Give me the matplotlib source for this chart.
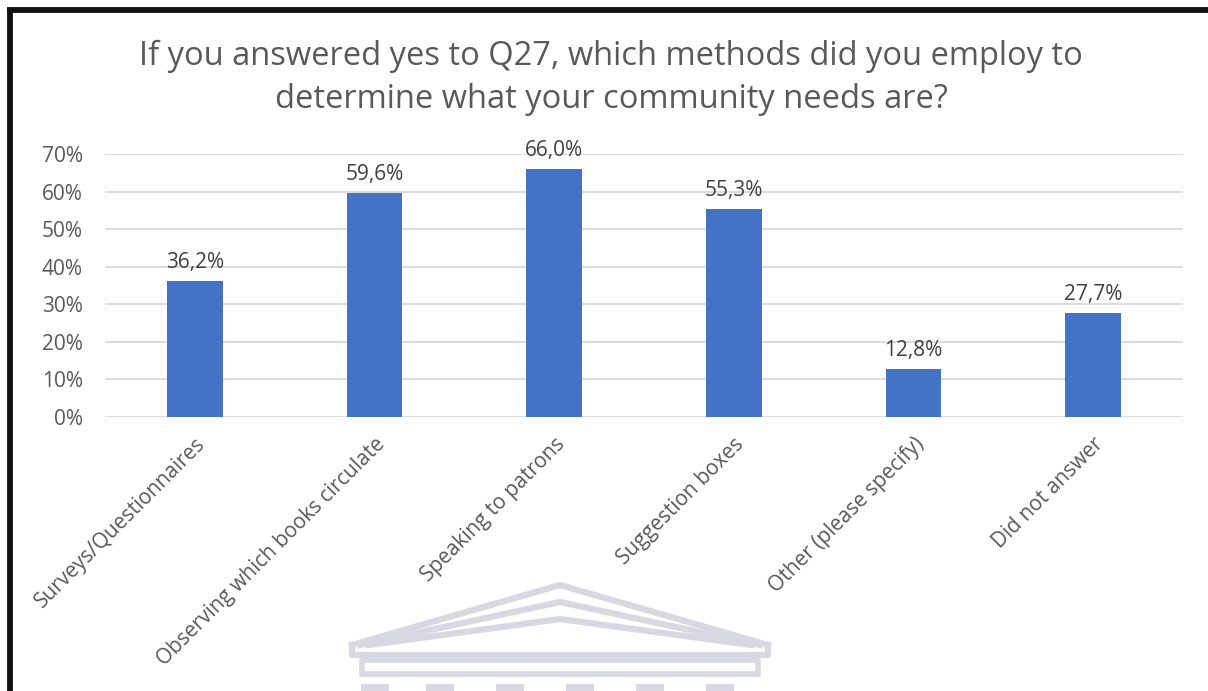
import matplotlib.pyplot as plt
import matplotlib.transforms as mtransforms
from matplotlib.patches import Rectangle
import numpy as np

plt.rcParams['font.family'] = ['Open Sans', 'DejaVu Sans']

# Survey answers
methods = ['Surveys/Questionnaires', 'Observing which books circulate',
           'Speaking to patrons', 'Suggestion boxes',
           'Other (please specify)', 'Did not answer']
shares = [36.2, 59.6, 66.0, 55.3, 12.8, 27.7]
y_ticks = [0, 10, 20, 30, 40, 50, 60, 70]

W, H = 1208, 691
fig = plt.figure(figsize=(W / 100, H / 100), dpi=100)

# background layer in pixel coords: frame + faint pediment watermark
bg = fig.add_axes([0, 0, 1, 1], zorder=0)
bg.set_xlim(0, W)
bg.set_ylim(H, 0)
bg.axis('off')
bg.plot([9.5, 9.5], [10, H], color='#111111', lw=4.2, solid_capstyle='butt')
bg.plot([7, W], [10, 10], color='#111111', lw=4.2, solid_capstyle='butt')

wm = '#d8d8e2'
for dy in (0, 17, 34):
    bg.plot([352 + dy * 0.5, 560, 768 - dy * 0.5], [645, 585 + dy, 645],
            color=wm, lw=4.5, solid_joinstyle='miter')
bg.plot([352, 352, 768, 768], [645, 655, 655, 645], color=wm, lw=4.5)
bg.add_patch(Rectangle((362, 660), 396, 14, fill=False, ec=wm, lw=4))
for cx in (375, 440, 510, 580, 650, 720):
    bg.add_patch(Rectangle((cx - 14, 684), 28, 8, color=wm, lw=0))

ax = fig.add_axes([105 / W, 1 - 417 / H, (1183 - 105) / W, (417 - 154) / H], zorder=1)
ax.patch.set_alpha(0)
x = np.arange(len(methods))
bars = ax.bar(x, shares, width=0.31, color='#4472C4', zorder=3)
for b, v in zip(bars, shares):
    ax.text(b.get_x() + b.get_width() / 2, v + 2.2, f'{v:.1f}%'.replace('.', ','),
            ha='center', va='bottom', fontsize=15, color='#404040')

ax.set_xlim(-0.5, len(methods) - 0.5)
ax.set_ylim(0, 70)
ax.set_yticks(y_ticks)
ax.set_yticklabels([f'{t}%' for t in y_ticks], fontsize=15, color='#595959')
ax.set_xticks(x)
ax.set_xticklabels(methods, rotation=45, ha='right', va='top',
                   rotation_mode='anchor', fontsize=15, color='#595959')
shift = mtransforms.ScaledTranslation(-0.06, 0, fig.dpi_scale_trans)
for lbl in ax.get_xticklabels():
    lbl.set_transform(lbl.get_transform() + shift)
ax.tick_params(length=0)
ax.tick_params(axis='y', pad=16)
ax.tick_params(axis='x', pad=12)
ax.grid(axis='y', color='#d9d9d9', lw=1.3, zorder=0)
for s in ax.spines.values():
    s.set_visible(False)

fig.text(611 / W, 1 - 78 / H,
         'If you answered yes to Q27, which methods did you employ to\n'
         'determine what your community needs are?',
         ha='center', va='center', fontsize=23.5, color='#595959', linespacing=1.4)

fig.savefig('out.png', dpi=100, facecolor='white')
